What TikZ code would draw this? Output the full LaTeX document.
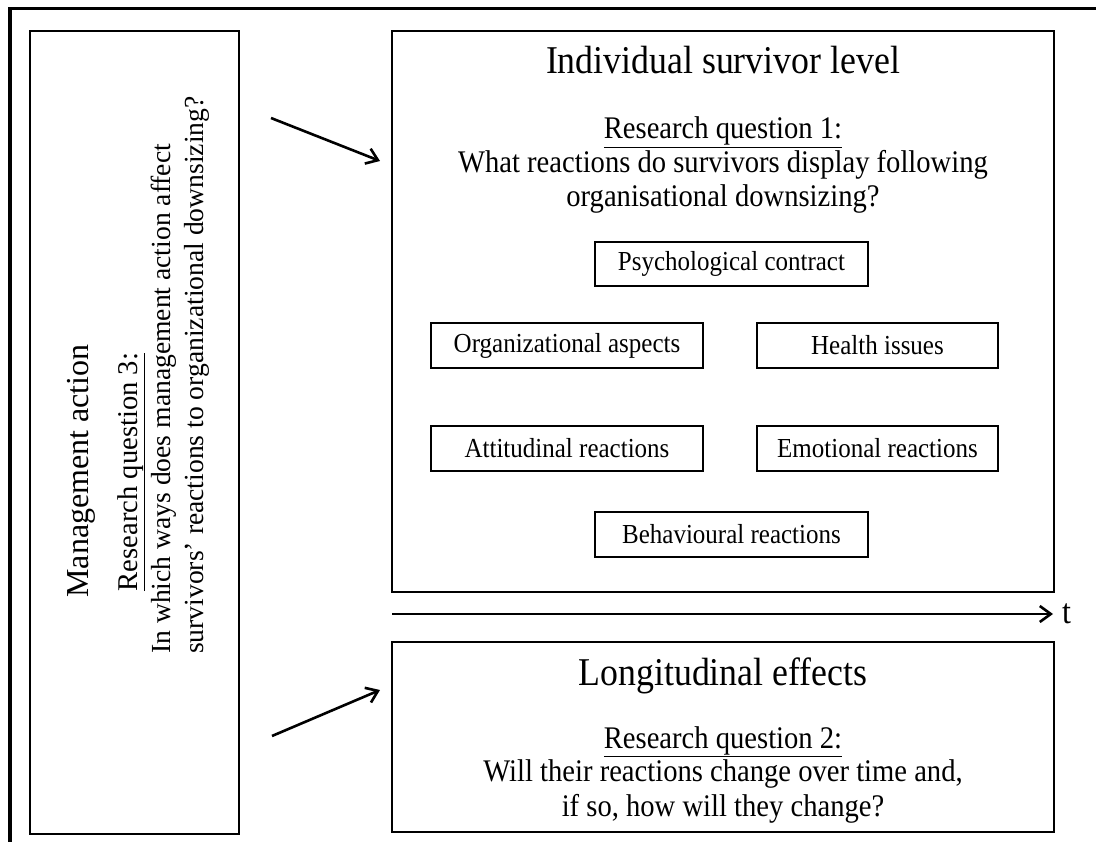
\documentclass[tikz,border=0pt]{standalone}
\usepackage{fontspec}
\setmainfont{Liberation Serif}
\usetikzlibrary{arrows.meta}
% slightly tall lettering for the horizontal labels
\newcommand\tall[1]{\scalebox{1}[1.1]{#1}}
\begin{document}
\begin{tikzpicture}[x=1pt,y=-1pt,
  frame/.style={line width=3.2pt},
  panel/.style={draw, line width=2.6pt, rectangle, inner sep=0pt},
  factor/.style={draw, line width=1.6pt, rectangle, inner sep=0pt,
                 font=\fontsize{25}{29}\selectfont},
  heading/.style={font=\fontsize{35.8}{41}\selectfont, inner sep=0pt, anchor=base},
  body/.style={font=\fontsize{28.6}{34}\selectfont, inner sep=0pt, anchor=base},
  side/.style={font=\fontsize{27.6}{33}\selectfont, inner sep=0pt, anchor=base west, rotate=90},
  link/.style={line width=2.6pt, -{Straight Barb[length=11pt,width=16pt]}}
]
\useasboundingbox (0,0) rectangle (1096,842);

% outer frame (top and left edges only)
\draw[frame] (10,842) -- (10,8.5) -- (1096,8.5);

% three panels
\node[panel, minimum width=209pt, minimum height=803pt] (mgmt)  at (134.5,432.5) {};
\node[panel, minimum width=662pt, minimum height=561pt] (indiv) at (723,311.5) {};
\node[panel, minimum width=662pt, minimum height=190pt] (longi) at (723,737) {};

% management action column (rotated, reading upwards)
\node[heading, rotate=90, font=\fontsize{32}{37}\selectfont] (mtitle) at (88,471) {Management action};
\node[body, rotate=90] (q3a) at (137,472) {\underline{Research question 3:}};
\node[side] (q3b) at (170,654) {In which ways does management action affect};
\node[side] (q3c) at (203,654) {survivors’ reactions to organizational downsizing?};

% individual survivor level
\node[heading] (ititle) at (723,74) {\tall{Individual survivor level}};
\node[body] (q1a) at (723,139) {\tall{\underline{Research question 1:}}};
\node[body] (q1b) at (723,173) {\tall{What reactions do survivors display following}};
\node[body] (q1c) at (723,207) {\tall{organisational downsizing?}};

\node[factor, minimum width=273pt, minimum height=44pt] (psy) at (731.5,264) {\tall{Psychological contract}};
\node[factor, minimum width=272pt, minimum height=45pt] (org) at (567,345.5) {\tall{Organizational aspects}};
\node[factor, minimum width=241pt, minimum height=45pt] (hea) at (877.5,345.5) {\tall{Health issues}};
\node[factor, minimum width=272pt, minimum height=45pt] (att) at (567,448.5) {\tall{Attitudinal reactions}};
\node[factor, minimum width=241pt, minimum height=45pt] (emo) at (877.5,448.5) {\tall{Emotional reactions}};
\node[factor, minimum width=273pt, minimum height=45pt] (beh) at (731.5,534.5) {\tall{Behavioural reactions}};

% longitudinal effects
\node[heading] (ltitle) at (723,685) {\tall{Longitudinal effects}};
\node[body] (q2a) at (723,748) {\tall{\underline{Research question 2:}}};
\node[body] (q2b) at (723,781) {\tall{Will their reactions change over time and,}};
\node[body] (q2c) at (723,816) {\tall{if so, how will they change?}};

% time axis
\coordinate (tstart) at (392,614);
\node[font=\fontsize{32}{36}\selectfont, inner sep=0pt, anchor=base west] (tlab) at (1062,623) {\tall{t}};
\draw[link, shorten >=9pt] (tstart) -- (tstart -| tlab.west);

% influence arrows
\coordinate (u0) at (271,118);
\coordinate (u1) at (380,161);
\coordinate (d0) at (272,736);
\coordinate (d1) at (380,690);
\draw[link] (u0) -- (u1);
\draw[link] (d0) -- (d1);
\end{tikzpicture}
\end{document}
